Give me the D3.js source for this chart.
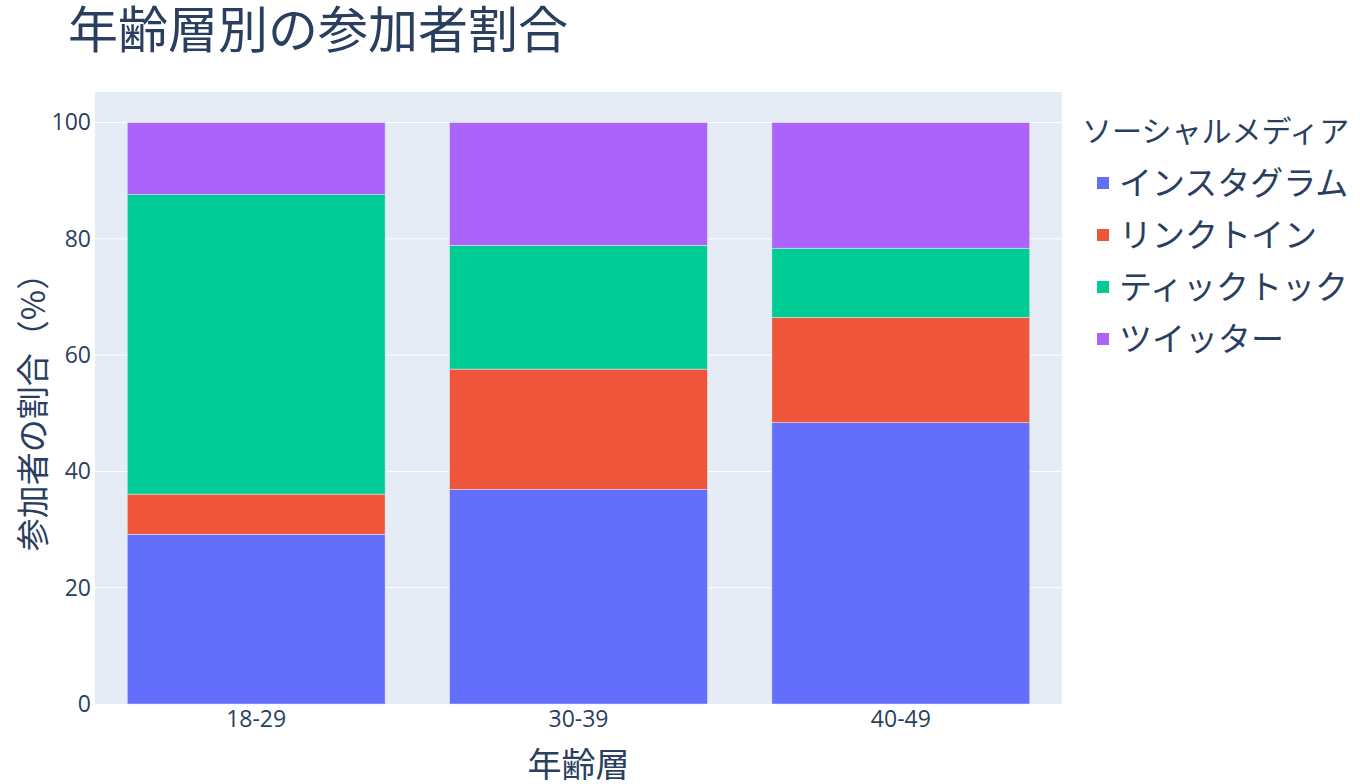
<!DOCTYPE html>
<html>
<head>
<meta charset="utf-8">
<script src="https://cdn.jsdelivr.net/npm/d3@7"></script>
<style>
  body { margin: 0; background: #fff; }
  text { font-family: "Open Sans", "Noto Sans CJK JP", sans-serif; fill: #2a3f5f; }
  .jp { font-family: "Noto Sans CJK JP", "Open Sans", sans-serif; }
</style>
</head>
<body>
<div id="chart"></div>
<script>
// données
const ageGroups = ["18-29", "30-39", "40-49"];
const platforms = ["インスタグラム", "リンクトイン", "ティックトック", "ツイッター"];
const instagram = [29.2, 36.9, 48.4];
const linkedin = [6.9, 20.7, 18.1];
const tiktok = [51.5, 21.3, 11.9];
const twitter = [12.4, 21.1, 21.6];
const yTicks = [0, 20, 40, 60, 80, 100];

const colors = ["#636efa", "#EF553B", "#00cc96", "#ab63fa"];

const width = 1360, height = 784;
const margin = { left: 95, right: 298, top: 92, bottom: 80 };

const rows = ageGroups.map((g, i) => ({
  age: g,
  "インスタグラム": instagram[i],
  "リンクトイン": linkedin[i],
  "ティックトック": tiktok[i],
  "ツイッター": twitter[i]
}));

const stack = d3.stack().keys(platforms)(rows);

const svg = d3.select("#chart").append("svg")
  .attr("width", width).attr("height", height);

const x = d3.scaleBand().domain(ageGroups)
  .range([margin.left, width - margin.right])
  .paddingInner(0.2).paddingOuter(0.1);
const y = d3.scaleLinear().domain([0, 105.26])
  .range([height - margin.bottom, margin.top]);

// fond
svg.append("rect")
  .attr("x", margin.left).attr("y", margin.top)
  .attr("width", width - margin.left - margin.right)
  .attr("height", height - margin.top - margin.bottom)
  .attr("fill", "#E5ECF6");

// grille
svg.append("g").selectAll("line").data(yTicks.filter(d => d > 0)).join("line")
  .attr("x1", margin.left).attr("x2", width - margin.right)
  .attr("y1", d => y(d)).attr("y2", d => y(d))
  .attr("stroke", "#fff").attr("stroke-width", 1);

// barres
svg.append("g").selectAll("g").data(stack).join("g")
  .attr("fill", (d, i) => colors[i])
  .selectAll("rect").data(d => d).join("rect")
  .attr("x", d => x(d.data.age))
  .attr("width", x.bandwidth())
  .attr("y", d => y(d[1]))
  .attr("height", d => y(d[0]) - y(d[1]))
  .attr("stroke", "#E5ECF6").attr("stroke-width", 0.5);

// axe y
const yAxis = svg.append("g")
  .attr("transform", `translate(${margin.left},0)`)
  .call(d3.axisLeft(y).tickValues(yTicks).tickSize(0).tickPadding(4));
yAxis.select(".domain").remove();
yAxis.selectAll("text").attr("font-size", 23).style("font-family", null).attr("fill", "#2a3f5f");

// axe x
const xAxis = svg.append("g")
  .attr("transform", `translate(0,${height - margin.bottom})`)
  .call(d3.axisBottom(x).tickSize(0).tickPadding(7));
xAxis.select(".domain").remove();
xAxis.selectAll("text").attr("font-size", 23).style("font-family", null).attr("fill", "#2a3f5f");

// titres
svg.append("text").attr("class", "jp")
  .attr("x", 68).attr("y", 48)
  .attr("font-size", 50)
  .text("年齢層別の参加者割合");

svg.append("text").attr("class", "jp")
  .attr("x", (margin.left + width - margin.right) / 2).attr("y", 777)
  .attr("text-anchor", "middle").attr("font-size", 34)
  .text("年齢層");

svg.append("text").attr("class", "jp")
  .attr("transform", `translate(45,${(margin.top + height - margin.bottom) / 2 + 6}) rotate(-90)`)
  .attr("text-anchor", "middle").attr("font-size", 33)
  .text("参加者の割合（%）");

// légende
const legend = svg.append("g").attr("transform", "translate(1082,0)");
legend.append("text").attr("class", "jp")
  .attr("x", 0).attr("y", 142).attr("font-size", 30)
  .text("ソーシャルメディア");

const item = legend.selectAll(".item").data(platforms).join("g")
  .attr("class", "item")
  .attr("transform", (d, i) => `translate(0,${183 + i * 52})`);
item.append("rect")
  .attr("x", 15).attr("y", -6).attr("width", 12).attr("height", 12)
  .attr("fill", (d, i) => colors[i]);
item.append("text").attr("class", "jp")
  .attr("x", 37).attr("y", 12).attr("font-size", 33)
  .text(d => d);
</script>
</body>
</html>
